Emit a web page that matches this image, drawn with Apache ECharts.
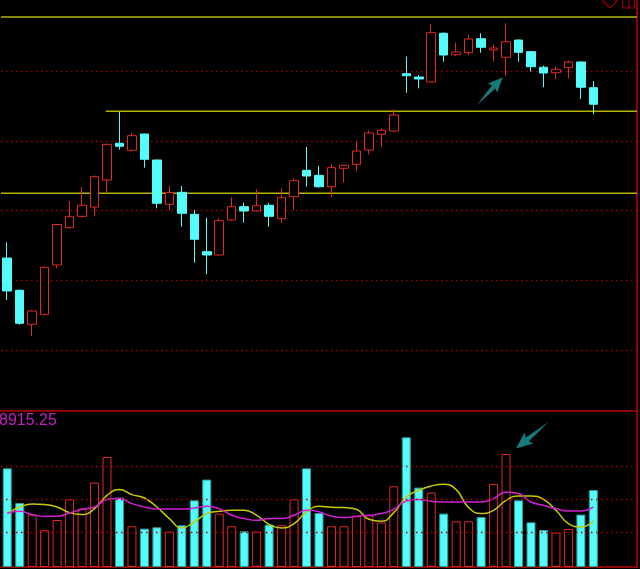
<!DOCTYPE html>
<html><head><meta charset="utf-8">
<script src="https://cdn.jsdelivr.net/npm/echarts@6/dist/echarts.min.js"></script>
<style>html,body{margin:0;padding:0;background:#000;overflow:hidden}#c{width:640px;height:569px;}</style>
</head><body><div id="c"></div>
<script>
const categories = ['1','2','3','4','5','6','7','8','9','10','11','12','13','14','15','16','17','18','19','20','21','22','23','24','25','26','27','28','29','30','31','32','33','34','35','36','37','38','39','40','41','42','43','44','45','46','47','48','49','50','51'];
const opens  = [3132.0,3085.7,3036.9,3051.2,3122.0,3175.5,3191.9,3205.2,3244.0,3296.7,3286.6,3310.0,3272.7,3209.1,3226.3,3194.8,3141.1,3136.4,3186.6,3205.7,3199.5,3207.7,3188.5,3220.0,3257.9,3250.7,3234.4,3260.8,3266.5,3287.1,3309.6,3314.3,3396.6,3391.8,3384.7,3454.6,3423.8,3426.7,3446.8,3430.6,3420.1,3444.9,3428.2,3405.8,3398.0,3405.2,3413.4,3376.5];
const closes = [3084.7,3038.3,3056.0,3118.7,3180.1,3191.3,3207.7,3248.7,3295.2,3292.4,3307.6,3273.7,3210.6,3225.8,3196.2,3158.9,3136.4,3185.6,3205.7,3199.5,3207.1,3191.9,3218.6,3243.0,3249.7,3234.4,3261.7,3265.1,3285.6,3311.5,3315.3,3337.3,3393.7,3389.0,3455.4,3423.4,3427.7,3446.4,3434.5,3433.5,3442.5,3427.3,3406.6,3397.6,3402.9,3413.4,3377.1,3352.7];
const lows   = [3071.8,3036.3,3020.1,3049.8,3117.0,3175.1,3190.2,3191.9,3227.2,3287.5,3284.6,3261.7,3203.4,3200.9,3177.0,3125.3,3108.7,3135.6,3185.9,3182.7,3199.1,3177.0,3182.7,3200.9,3234.4,3233.0,3220.0,3240.1,3257.3,3280.9,3291.8,3313.6,3369.3,3375.6,3384.7,3413.8,3421.5,3423.4,3426.7,3413.8,3393.3,3413.8,3399.4,3377.1,3388.5,3390.0,3360.3,3338.3];
const highs  = [3154.6,3086.8,3056.7,3119.4,3180.8,3213.9,3234.0,3250.5,3296.0,3342.0,3311.9,3310.7,3273.4,3235.4,3235.4,3200.9,3189.9,3189.0,3219.2,3211.4,3230.7,3211.4,3232.1,3246.4,3291.4,3264.1,3267.0,3265.5,3298.5,3315.3,3318.2,3345.5,3421.0,3394.7,3467.5,3456.0,3441.1,3452.1,3454.6,3438.2,3468.9,3445.7,3428.4,3408.1,3406.6,3415.2,3414.1,3386.1];
const volumes = [5677,3681,3014,2111,2703,3894,3359,4855,6327,3992,2341,2209,2284,2036,2399,3837,5027,3072,2341,2053,2036,2439,2399,3894,5677,3106,2341,2341,2916,2974,2554,4642,7460,4567,4279,3072,2629,2629,2876,4774,6500,3837,2571,2128,1979,2186,3014,4429];
const volMA5  = [3072,3451,3624,3589,3451,3129,3014,3359,4124,4452,4164,3969,3451,2784,2243,2588,3072,3204,3261,3261,2974,2456,2243,2496,3164,3491,3434,3417,3319,2744,2629,3129,4026,4412,4659,4757,4452,3417,3072,3261,3837,4084,4084,3894,3261,2496,2301,2629];
const volMA10 = [3106,3204,3014,2916,2916,3106,3319,3451,3877,3934,3647,3451,3336,3336,3336,3394,3491,3359,2974,2784,2686,2784,2784,2974,3261,3175,2916,2841,2916,2974,3072,3319,3796,3877,3779,3739,3739,3739,3739,3934,4314,4222,3739,3549,3359,3221,3221,3451];
const priceGridLevels = [3000, 3100, 3200, 3300, 3400];
const volGridLevels = [2010, 3890, 5790];
const levelValues = [3478.0, 3342.6, 3224.9];
const levelStarts = [0, 8.4, 0];
const slotCount = 51;
const priceMin = 2912.45, priceMax = 3502.36;
const volMax = 8915.25;
const priceArrow = [39.2, 3371.7];
const volArrow = [42.6, 7575];

const UP = '#e02828', DOWN = '#54fcfc';
const candleData = opens.map((o, i) => [o, closes[i], lows[i], highs[i]]);
const volData = volumes.map((v, i) => ({
  value: v,
  itemStyle: closes[i] >= opens[i]
    ? { color: '#000', borderColor: UP, borderWidth: 1 }
    : { color: DOWN, borderColor: '#2a9a9a', borderWidth: 1 }
}));
const arrowPath = 'path://M0,7 L26,4.6 L24,0 L40,7 L24,14 L26,9.4 Z';

const levelSeries = levelValues.map((v, i) => ({
  type: 'line', xAxisIndex: 2, yAxisIndex: 0, symbol: 'none', silent: true,
  lineStyle: { color: '#b4b400', width: 1.6 }, z: 1,
  data: [[levelStarts[i], v], [slotCount, v]]
}));

const chart = echarts.init(document.getElementById('c'), null, { renderer: 'canvas' });
chart.setOption({
  animation: false,
  backgroundColor: '#000',
  title: {
    text: String(volMax), left: -1, top: 413, padding: 0,
    textStyle: { color: '#c020c0', fontSize: 16, fontWeight: 'normal', fontFamily: 'Liberation Sans' }
  },
  graphic: [
    { type: 'polygon', shape: { points: [[610, -6], [617, 1], [610, 8], [603, 1]] }, style: { fill: 'none', stroke: '#a00000', lineWidth: 1.2 } },
    { type: 'rect', shape: { x: 622.5, y: -6, width: 12, height: 14 }, style: { fill: 'none', stroke: '#a00000', lineWidth: 1.2 } },
    { type: 'line', shape: { x1: 629, y1: -6, x2: 629, y2: 8 }, style: { stroke: '#a00000', lineWidth: 1.2 } }
  ],
  grid: [
    { left: 1, top: 0, width: 636, height: 411 },
    { left: 1, top: 412, width: 636, height: 155 }
  ],
  xAxis: [
    { type: 'category', gridIndex: 0, data: categories, boundaryGap: true,
      axisLine: { show: true, onZero: false, lineStyle: { color: '#8b0000', width: 2 } },
      axisTick: { show: false }, axisLabel: { show: false }, splitLine: { show: false } },
    { type: 'category', gridIndex: 1, data: categories, boundaryGap: true,
      axisLine: { show: true, onZero: false, lineStyle: { color: '#8b0000', width: 2 } },
      axisTick: { show: false }, axisLabel: { show: false }, splitLine: { show: false } },
    { type: 'value', gridIndex: 0, min: 0, max: slotCount, show: false },
    { type: 'value', gridIndex: 1, min: 0, max: slotCount, show: false }
  ],
  yAxis: [
    { type: 'value', gridIndex: 0, position: 'right', min: priceMin, max: priceMax,
      axisLine: { show: true, onZero: false, lineStyle: { color: '#c00000', width: 1.5 } },
      axisTick: { show: false }, axisLabel: { show: false }, splitLine: { show: false } },
    { type: 'value', gridIndex: 1, position: 'right', min: 0, max: volMax,
      axisLine: { show: true, onZero: false, lineStyle: { color: '#c00000', width: 1.5 } },
      axisTick: { show: false }, axisLabel: { show: false }, splitLine: { show: false } }
  ],
  series: [
    ...levelSeries,
    {
      type: 'candlestick', xAxisIndex: 0, yAxisIndex: 0, data: candleData, barWidth: 9, z: 3,
      itemStyle: { color: '#000', color0: DOWN, borderColor: UP, borderColor0: DOWN, borderWidth: 1 },
      markLine: {
        silent: true, symbol: ['none', 'none'], label: { show: false }, z: 0,
        lineStyle: { color: '#a00000', type: [1.5, 3.5], width: 1.3 },
        data: priceGridLevels.map(v => ({ yAxis: v }))
      }
    },
    {
      type: 'bar', xAxisIndex: 1, yAxisIndex: 1, data: volData, barWidth: 9, z: 3,
      markLine: {
        silent: true, symbol: ['none', 'none'], label: { show: false },
        lineStyle: { color: '#a00000', type: [1.5, 3.5], width: 1.3 },
        data: volGridLevels.map(v => ({ yAxis: v }))
      }
    },
    { type: 'line', xAxisIndex: 1, yAxisIndex: 1, data: volMA5, smooth: true, symbol: 'none', z: 4,
      lineStyle: { color: '#c8c800', width: 1.5 } },
    { type: 'line', xAxisIndex: 1, yAxisIndex: 1, data: volMA10, smooth: true, symbol: 'none', z: 4,
      lineStyle: { color: '#d020d0', width: 1.5 } },
    { type: 'scatter', xAxisIndex: 2, yAxisIndex: 0, data: [priceArrow], symbol: arrowPath,
      symbolSize: [38, 13], symbolRotate: 47, itemStyle: { color: '#1a9a9a' }, z: 5, silent: true },
    { type: 'scatter', xAxisIndex: 3, yAxisIndex: 1, data: [volArrow], symbol: arrowPath,
      symbolSize: [42, 14], symbolRotate: 219, itemStyle: { color: '#1a9a9a' }, z: 5, silent: true }
  ]
});
</script></body></html>
